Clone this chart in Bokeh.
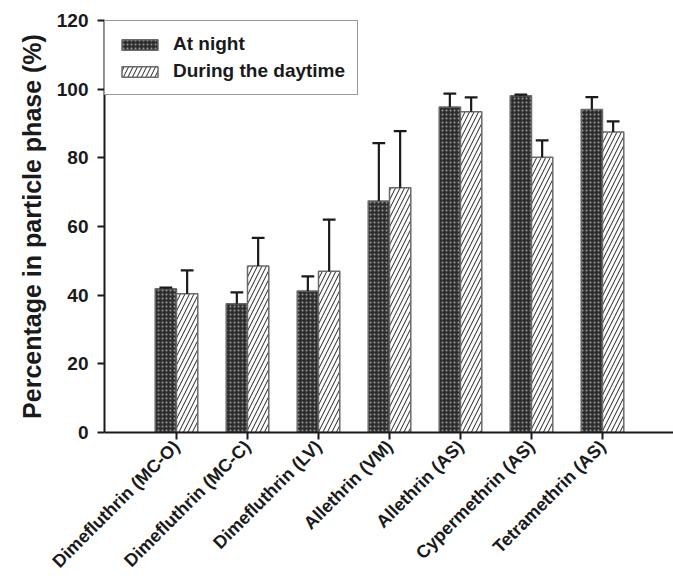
import math
from bokeh.plotting import figure
from bokeh.models import Range1d, FixedTicker, Legend, LegendItem
from bokeh.embed import file_html
from bokeh.resources import INLINE

categories = ["Dimefluthrin (MC-O)", "Dimefluthrin (MC-C)", "Dimefluthrin (LV)",
              "Allethrin (VM)", "Allethrin (AS)", "Cypermethrin (AS)", "Tetramethrin (AS)"]
night = [41.9, 37.5, 41.2, 67.4, 94.8, 98.1, 94.1]
night_err = [0.3, 3.3, 4.3, 16.9, 3.9, 0.3, 3.6]
day = [40.4, 48.5, 47.0, 71.3, 93.4, 80.2, 87.5]
day_err = [6.8, 8.2, 15.0, 16.5, 4.2, 4.9, 3.1]
y_ticks = [0, 20, 40, 60, 80, 100, 120]

BW = 0.30
CAP = 0.09
FONT = "Liberation Sans"
INK = "#1a1a1a"

idx = list(range(len(categories)))
xn = [i - BW / 2 for i in idx]
xd = [i + BW / 2 for i in idx]

p = figure(width=673, height=581, output_backend="svg", toolbar_location=None,
           x_range=Range1d(-1.014, 7.0), y_range=Range1d(0, 120),
           min_border_left=104, min_border_top=20, min_border_bottom=149, min_border_right=0)
p.outline_line_color = None
p.grid.visible = False
p.background_fill_color = "white"

rn = p.vbar(x=xn, top=night, width=BW, fill_color="#2e2e2e", line_color="#6a6a6a", line_width=1.5,
            hatch_pattern=".", hatch_color="#9a9a9a", hatch_scale=4, hatch_weight=1)
rd = p.vbar(x=xd, top=day, width=BW, fill_color="white", line_color="#6a6a6a", line_width=1.5,
            hatch_pattern="/", hatch_color="#222222", hatch_scale=9, hatch_weight=1)

# error bars (upper only)
for xs, vals, errs in ((xn, night, night_err), (xd, day, day_err)):
    tops = [v + e for v, e in zip(vals, errs)]
    p.segment(x0=xs, y0=vals, x1=xs, y1=tops, line_color=INK, line_width=2.2)
    p.segment(x0=[x - CAP for x in xs], y0=tops, x1=[x + CAP for x in xs], y1=tops,
              line_color=INK, line_width=2.2)

# axes
p.xaxis.ticker = FixedTicker(ticks=idx)
p.xaxis.major_label_overrides = {i: c for i, c in zip(idx, categories)}
p.xaxis.major_label_orientation = math.pi / 4
p.yaxis.ticker = FixedTicker(ticks=y_ticks)
for ax in (p.xaxis[0], p.yaxis[0]):
    ax.axis_line_width = 2
    ax.axis_line_color = INK
    ax.major_tick_line_width = 2
    ax.major_tick_line_color = INK
    ax.major_tick_out = 7
    ax.major_tick_in = 0
    ax.minor_tick_line_color = None
    ax.major_label_text_font = FONT
    ax.major_label_text_font_style = "bold"
    ax.major_label_text_color = INK
p.yaxis.major_label_text_font_size = "19px"
p.xaxis.major_label_text_font_size = "18px"
p.yaxis.major_label_standoff = 9
p.xaxis.major_label_standoff = 4
p.yaxis.axis_label = "Percentage in particle phase (%)"
p.yaxis.axis_label_text_font = FONT
p.yaxis.axis_label_text_font_style = "bold"
p.yaxis.axis_label_text_font_size = "25px"
p.yaxis.axis_label_text_color = INK
p.yaxis.axis_label_standoff = 8

legend = Legend(items=[LegendItem(label="At night", renderers=[rn]),
                       LegendItem(label="During the daytime", renderers=[rd])],
                location="top_left", margin=0, padding=12, spacing=5,
                glyph_width=45, glyph_height=13, label_standoff=11,
                label_text_font=FONT, label_text_font_style="bold", label_text_font_size="19px",
                label_text_color=INK, label_height=20,
                border_line_color="#333333", border_line_width=1.5, background_fill_alpha=1)
p.add_layout(legend)

open("out.html", "w").write(file_html(p, INLINE))
